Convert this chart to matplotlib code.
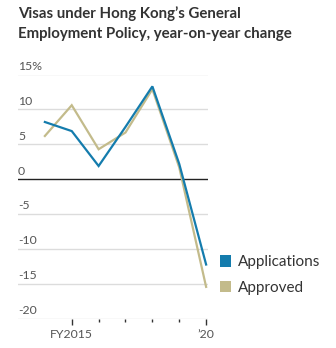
import matplotlib
matplotlib.use("Agg")
import matplotlib.pyplot as plt
from matplotlib.patches import Patch
import matplotlib.transforms as mtransforms

years = [2014, 2015, 2016, 2017, 2018, 2019, 2020]
applications = [8.2, 6.9, 1.9, 7.5, 13.3, 2.2, -12.2]
approved = [6.2, 10.6, 4.3, 6.7, 12.9, 1.7, -15.4]
ytick_vals = [15, 10, 5, 0, -5, -10, -15, -20]
ytick_labels = ["15%", "10", "5", "0", "-5", "-10", "-15", "-20"]
xtick_major = [2015, 2020]
xtick_major_labels = ["FY2015", "\u201920"]
xtick_minor = [2016, 2017, 2018, 2019]

blue = "#147cad"
tan = "#c3bb8b"
grid_c = "#dcdcdc"
text_c = "#555555"

plt.rcParams['font.family'] = ['Lato', 'DejaVu Sans']

fig = plt.figure(figsize=(3.36, 3.48), dpi=100)
ax = fig.add_axes([18/336, 1-319/348, (208-18)/336, (319-74.5)/348])

fig.text(18/336, 1-6/348, "Visas under Hong Kong\u2019s General\nEmployment Policy, year-on-year change",
         ha="left", va="top", fontsize=10.8, fontweight="bold", color="#333333", linespacing=1.55)

ax.set_xlim(2013.0, 2020.07)
ax.set_ylim(-20, 15)

for v in ytick_vals:
    if v == 0:
        ax.axhline(v, color="#222222", lw=1.0, zorder=1)
    else:
        ax.axhline(v, color=grid_c, lw=1.0, zorder=0)

off = mtransforms.offset_copy(ax.transData, fig=fig, x=0, y=2, units="points")
blend = mtransforms.blended_transform_factory(ax.transAxes, off)
for v, lab in zip(ytick_vals, ytick_labels):
    ax.text(0.0, v, lab, transform=blend, ha="left", va="bottom", fontsize=8.8, color=text_c, clip_on=False)

ax.plot(years, approved, color=tan, lw=1.6, zorder=2, solid_joinstyle="miter")
ax.plot(years, applications, color=blue, lw=1.6, zorder=3, solid_joinstyle="miter")

for s in ax.spines.values():
    s.set_visible(False)
ax.set_yticks([])
ax.set_xticks(xtick_major)
ax.set_xticklabels(xtick_major_labels)
ax.set_xticks(xtick_minor, minor=True)
ax.tick_params(axis="x", which="major", length=4, width=1, color="#333333", labelsize=8.8, labelcolor=text_c, pad=3)
ax.tick_params(axis="x", which="minor", length=2.5, width=1, color="#333333")

handles = [Patch(facecolor=blue, edgecolor="none"), Patch(facecolor=tan, edgecolor="none")]
fig.legend(handles, ["Applications", "Approved"], loc="center left",
           bbox_to_anchor=(220/336, 1-275/348), frameon=False, fontsize=11,
           handlelength=0.75, handleheight=0.75, handletextpad=0.4, labelspacing=0.75,
           labelcolor="#333333", borderaxespad=0, borderpad=0)

fig.savefig("out.png", dpi=100, facecolor="white")
